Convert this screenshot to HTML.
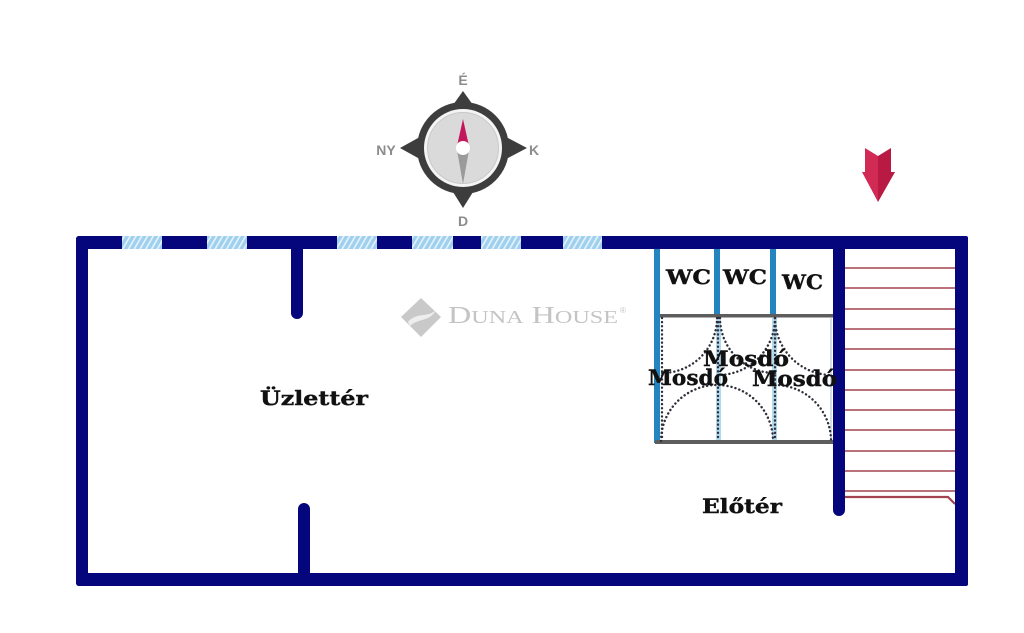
<!DOCTYPE html>
<html>
<head>
<meta charset="utf-8">
<style>
  html,body{margin:0;padding:0;background:#ffffff;}
  svg{display:block;}
</style>
</head>
<body>
<svg width="1024" height="633" viewBox="0 0 1024 633" xmlns="http://www.w3.org/2000/svg">
  <defs>
    <pattern id="hatch" patternUnits="userSpaceOnUse" width="5" height="5" patternTransform="rotate(30)">
      <rect width="5" height="5" fill="#9fd0ee"/>
      <rect width="1.6" height="5" fill="#e6f3fb"/>
    </pattern>
  </defs>
  <rect width="1024" height="633" fill="#ffffff"/>

  <!-- Compass -->
  <g>
    <polygon points="453,105 463,91 473,105" fill="#3d3d3d"/>
    <polygon points="453,192 463,208 473,192" fill="#3d3d3d"/>
    <polygon points="418,138 400,148 418,158" fill="#3d3d3d"/>
    <polygon points="508,138 527,148 508,158" fill="#3d3d3d"/>
    <circle cx="463" cy="148" r="46" fill="#3d3d3d"/>
    <circle cx="463" cy="148" r="39" fill="#f4f4f4"/>
    <circle cx="463" cy="148" r="35.5" fill="#dadada" stroke="#c9c9c9" stroke-width="1"/>
    <polygon points="463,119 469,146 457,146" fill="#c2185b"/>
    <polygon points="457,150 469,150 463,184" fill="#9a9a9a"/>
    <circle cx="463" cy="148" r="7" fill="#ffffff"/>
    <text x="463" y="85" font-family="Liberation Sans, DejaVu Sans, sans-serif" font-weight="bold" font-size="14" fill="#8c8c8c" text-anchor="middle">É</text>
    <text x="386" y="155" font-family="Liberation Sans, DejaVu Sans, sans-serif" font-weight="bold" font-size="14" fill="#8c8c8c" text-anchor="middle">NY</text>
    <text x="534" y="155" font-family="Liberation Sans, DejaVu Sans, sans-serif" font-weight="bold" font-size="14" fill="#8c8c8c" text-anchor="middle">K</text>
    <text x="463" y="226" font-family="Liberation Sans, DejaVu Sans, sans-serif" font-weight="bold" font-size="14" fill="#8c8c8c" text-anchor="middle">D</text>
  </g>

  <!-- Entrance arrow -->
  <polygon points="865,148 878,156 878,202 862,172 865,172" fill="#d12a55"/>
  <polygon points="891,148 878,156 878,202 895,172 891,172" fill="#b81a44"/>

  <!-- Duna House watermark -->
  <g>
    <polygon points="421,298 441,317 421,337 401,317" fill="#c9c9c9"/>
    <path d="M408,322 C416,312 428,318 436,310 C430,322 418,318 410,326 Z" fill="#eeeeee"/>
    <text x="448" y="323" font-family="Liberation Serif, serif" font-size="24" fill="#c4c4c4" textLength="170" lengthAdjust="spacingAndGlyphs">D<tspan font-size="18">UNA</tspan> H<tspan font-size="18">OUSE</tspan></text>
    <text x="620" y="313" font-family="Liberation Sans, sans-serif" font-size="8" fill="#c4c4c4">®</text>
  </g>

  <!-- Stair lines -->
  <g stroke="#a3444e" stroke-width="1.5">
    <line x1="845" y1="268" x2="955" y2="268"/>
    <line x1="845" y1="288" x2="955" y2="288"/>
    <line x1="845" y1="309" x2="955" y2="309"/>
    <line x1="845" y1="329" x2="955" y2="329"/>
    <line x1="845" y1="349" x2="955" y2="349"/>
    <line x1="845" y1="370" x2="955" y2="370"/>
    <line x1="845" y1="390" x2="955" y2="390"/>
    <line x1="845" y1="410" x2="955" y2="410"/>
    <line x1="845" y1="430" x2="955" y2="430"/>
    <line x1="845" y1="451" x2="955" y2="451"/>
    <line x1="845" y1="471" x2="955" y2="471"/>
    <line x1="845" y1="491" x2="955" y2="491"/>
  </g>
  <polyline points="845,497 948,497 955,504" fill="none" stroke="#a3444e" stroke-width="2.2"/>

  <!-- WC / Mosdó block -->
  <rect x="716" y="318" width="5" height="123" fill="#b3d9ef"/>
  <rect x="772" y="318" width="5" height="123" fill="#b3d9ef"/>
  <rect x="654" y="249" width="6" height="194" fill="#2384c0"/>
  <rect x="714" y="249" width="6" height="68" fill="#2384c0"/>
  <rect x="770" y="249" width="6" height="68" fill="#2384c0"/>
  <rect x="660" y="314" width="173" height="3.5" fill="#5d5d5d"/>
  <rect x="655" y="440" width="178" height="4" fill="#5d5d5d"/>
  <line x1="831" y1="318" x2="831" y2="440" stroke="#c8d2da" stroke-width="1.5"/>

  <g fill="none" stroke="#2f2f3a" stroke-width="2.4" stroke-dasharray="0.1,4" stroke-linecap="round">
    <line x1="662" y1="318" x2="662" y2="440"/>
    <line x1="718" y1="318" x2="718" y2="440"/>
    <line x1="775" y1="318" x2="775" y2="440"/>
    <path d="M661,441 A56,56 0 0 1 773,441"/>
    <path d="M775,385 A56,56 0 0 1 831,441"/>
    <path d="M717,318 A55,55 0 0 1 662,373"/>
    <path d="M720,318 A55,55 0 0 0 775,373"/>
    <path d="M775,318 A57,57 0 0 1 718,375"/>
    <path d="M775,318 A57,57 0 0 0 832,375"/>
  </g>

  <!-- Walls -->
  <g fill="#06067c">
    <rect x="76" y="236" width="892" height="13" rx="3"/>
    <rect x="76" y="236" width="12" height="350" rx="3"/>
    <rect x="76" y="573" width="892" height="13" rx="3"/>
    <rect x="955" y="236" width="13" height="350" rx="2"/>
    <rect x="291" y="240" width="12" height="79" rx="6"/>
    <rect x="298" y="503" width="12" height="76" rx="6"/>
    <rect x="833" y="240" width="12" height="276" rx="6"/>
  </g>
  <!-- Windows -->
  <g fill="url(#hatch)">
    <rect x="122" y="236" width="40" height="13"/>
    <rect x="207" y="236" width="40" height="13"/>
    <rect x="337" y="236" width="40" height="13"/>
    <rect x="412" y="236" width="41" height="13"/>
    <rect x="481" y="236" width="40" height="13"/>
    <rect x="563" y="236" width="39" height="13"/>
  </g>

  <!-- Labels -->
  <g font-family="DejaVu Serif, Liberation Serif, serif" font-weight="bold" fill="#111111" stroke="#111111" stroke-width="0.4">
    <text x="666" y="284" font-size="20" textLength="45" lengthAdjust="spacingAndGlyphs">WC</text>
    <text x="723" y="284" font-size="20" textLength="44" lengthAdjust="spacingAndGlyphs">WC</text>
    <text x="782" y="289" font-size="20" textLength="41" lengthAdjust="spacingAndGlyphs">WC</text>
    <text x="703" y="366" font-size="21" textLength="86" lengthAdjust="spacingAndGlyphs">Mosdó</text>
    <text x="648" y="385" font-size="21" textLength="80" lengthAdjust="spacingAndGlyphs">Mosdó</text>
    <text x="752" y="386" font-size="21" textLength="85" lengthAdjust="spacingAndGlyphs">Mosdó</text>
    <text x="260" y="405" font-size="20" textLength="108" lengthAdjust="spacingAndGlyphs">Üzlettér</text>
    <text x="702" y="513" font-size="20" textLength="80" lengthAdjust="spacingAndGlyphs">Előtér</text>
  </g>
</svg>
</body>
</html>
